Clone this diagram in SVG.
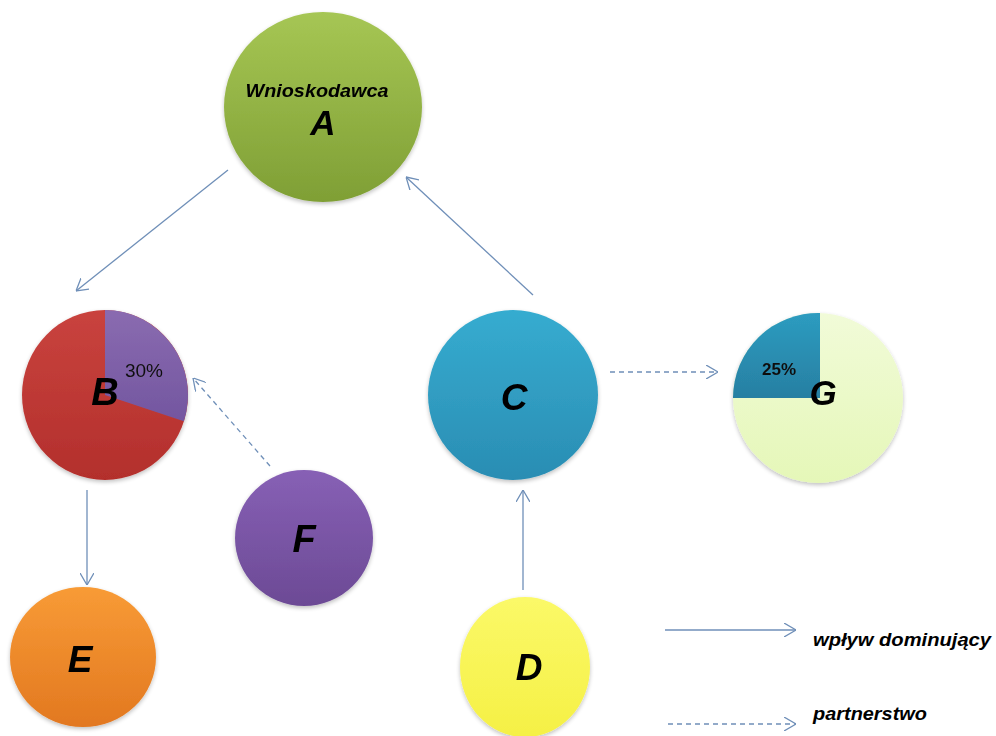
<svg xmlns="http://www.w3.org/2000/svg" width="996" height="736" viewBox="0 0 996 736">
<style>
.lbl{font-family:"Liberation Sans",Arial,sans-serif;font-weight:bold;font-style:italic;fill:#000;text-anchor:middle}
.pct{font-family:"Liberation Sans",Arial,sans-serif;fill:#111;text-anchor:middle}
.leg{font-family:"Liberation Sans",Arial,sans-serif;font-weight:bold;font-style:italic;fill:#000}
.con{fill:none;stroke:#6f8fb8;stroke-width:1.3}
.dash{stroke-dasharray:5,4}
</style>
<defs>
<marker id="ah" viewBox="0 0 12 14" refX="12" refY="7" markerWidth="12" markerHeight="14" markerUnits="userSpaceOnUse" orient="auto">
<path d="M0,0 L12,7 L0,14" fill="none" stroke="#6f8fb8" stroke-width="1.3"/>
</marker>
<filter id="sh" x="-10%" y="-10%" width="120%" height="125%">
<feGaussianBlur in="SourceAlpha" stdDeviation="2"/>
<feOffset dy="2" result="b"/>
<feComponentTransfer><feFuncA type="linear" slope="0.25"/></feComponentTransfer>
<feMerge><feMergeNode/><feMergeNode in="SourceGraphic"/></feMerge>
</filter>
<linearGradient id="gA" x1="0" y1="0" x2="0" y2="1"><stop offset="0" stop-color="#a6c654"/><stop offset="1" stop-color="#7f9f35"/></linearGradient>
<linearGradient id="gBr" x1="0" y1="0" x2="0" y2="1"><stop offset="0" stop-color="#c9433e"/><stop offset="1" stop-color="#b32f2c"/></linearGradient>
<linearGradient id="gBp" x1="0" y1="0" x2="0" y2="1"><stop offset="0" stop-color="#8a6bb0"/><stop offset="1" stop-color="#7356a0"/></linearGradient>
<linearGradient id="gC" x1="0" y1="0" x2="0" y2="1"><stop offset="0" stop-color="#36acd0"/><stop offset="1" stop-color="#2a8db3"/></linearGradient>
<linearGradient id="gG" x1="0" y1="0" x2="0" y2="1"><stop offset="0" stop-color="#f1fbd8"/><stop offset="1" stop-color="#e5f7b8"/></linearGradient>
<linearGradient id="gGd" x1="0" y1="0" x2="0" y2="1"><stop offset="0" stop-color="#2d9cc0"/><stop offset="1" stop-color="#277fa2"/></linearGradient>
<linearGradient id="gF" x1="0" y1="0" x2="0" y2="1"><stop offset="0" stop-color="#8760b5"/><stop offset="1" stop-color="#6c4a95"/></linearGradient>
<linearGradient id="gE" x1="0" y1="0" x2="0" y2="1"><stop offset="0" stop-color="#f89b36"/><stop offset="1" stop-color="#e27820"/></linearGradient>
<linearGradient id="gD" x1="0" y1="0" x2="0" y2="1"><stop offset="0" stop-color="#fbf968"/><stop offset="1" stop-color="#f5f045"/></linearGradient>
</defs>
<rect width="996" height="736" fill="#fff"/>
<g id="connectors">
<line class="con" x1="228" y1="170" x2="76" y2="291" marker-end="url(#ah)"/>
<line class="con" x1="533" y1="295" x2="406" y2="177" marker-end="url(#ah)"/>
<line class="con" x1="87" y1="490" x2="87" y2="585" marker-end="url(#ah)"/>
<line class="con" x1="523" y1="590" x2="523" y2="490" marker-end="url(#ah)"/>
<line class="con dash" x1="270" y1="466" x2="193" y2="378" marker-end="url(#ah)"/>
<line class="con dash" x1="610" y1="372" x2="718" y2="372" marker-end="url(#ah)"/>
</g>
<g id="nodeA" filter="url(#sh)">
<ellipse cx="323" cy="107" rx="99" ry="95" fill="url(#gA)"/>
<text class="lbl" x="317" y="97" font-size="19" textLength="143" lengthAdjust="spacingAndGlyphs">Wnioskodawca</text>
<text class="lbl" x="323" y="135" font-size="35">A</text>
</g>
<g id="nodeB" filter="url(#sh)">
<ellipse cx="105" cy="395" rx="83" ry="85" fill="url(#gBr)"/>
<path d="M105,395 L105,310 A83,85 0 0 1 183.9,421.3 Z" fill="url(#gBp)"/>
<text class="pct" x="144" y="377" font-size="19">30%</text>
<text class="lbl" x="105" y="405" font-size="38">B</text>
</g>
<g id="nodeC" filter="url(#sh)">
<circle cx="513" cy="395" r="85" fill="url(#gC)"/>
<text class="lbl" x="514" y="410" font-size="37">C</text>
</g>
<g id="nodeG" filter="url(#sh)">
<ellipse cx="818" cy="398" rx="85" ry="85" fill="url(#gG)"/>
<path d="M820,398 L820,313 A85,85 0 0 0 733,398 Z" fill="url(#gGd)"/>
<text class="pct" x="779" y="375" font-size="17" font-weight="bold">25%</text>
<text class="lbl" x="823" y="405" font-size="35" font-style="normal">G</text>
</g>
<g id="nodeF" filter="url(#sh)">
<ellipse cx="304" cy="538" rx="69" ry="68" fill="url(#gF)"/>
<text class="lbl" x="304" y="552" font-size="38">F</text>
</g>
<g id="nodeE" filter="url(#sh)">
<ellipse cx="83" cy="657" rx="73" ry="70" fill="url(#gE)"/>
<text class="lbl" x="80" y="672" font-size="37">E</text>
</g>
<g id="nodeD" filter="url(#sh)">
<ellipse cx="525" cy="667" rx="65" ry="70" fill="url(#gD)"/>
<text class="lbl" x="529" y="680" font-size="37">D</text>
</g>
<g id="legend">
<line class="con" x1="665" y1="630" x2="796" y2="630" marker-end="url(#ah)"/>
<text class="leg" x="813" y="646" font-size="19" textLength="178" lengthAdjust="spacingAndGlyphs">wpływ dominujący</text>
<line class="con dash" x1="668" y1="724" x2="796" y2="724" marker-end="url(#ah)"/>
<text class="leg" x="813" y="720" font-size="19" textLength="114" lengthAdjust="spacingAndGlyphs">partnerstwo</text>
</g>
</svg>
